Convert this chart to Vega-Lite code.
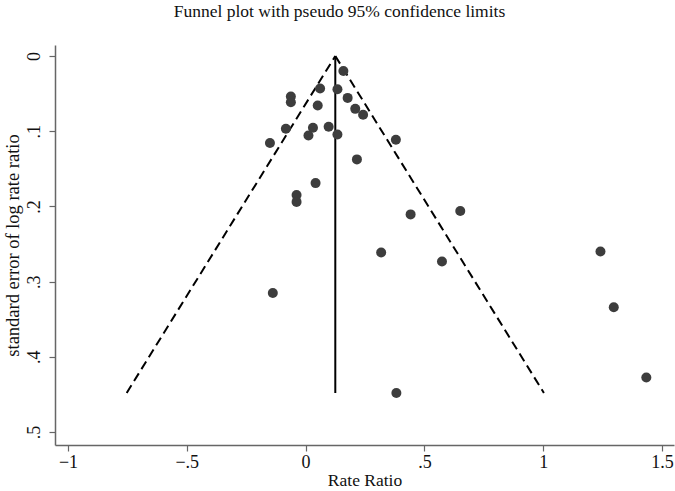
{
  "$schema": "https://vega.github.io/schema/vega-lite/v6.json",
  "autosize": {"type": "none"},
  "width": 619,
  "height": 400,
  "padding": {"left": 55, "top": 45, "right": 1, "bottom": 46},
  "background": "white",
  "config": {
    "view": {"stroke": null},
    "font": "Liberation Serif",
    "axis": {"grid": false, "domainColor": "#666666", "tickColor": "#666666", "labelColor": "#111111", "titleColor": "#111111", "labelFont": "Liberation Serif", "titleFont": "Liberation Serif", "labelFontSize": 18, "titleFontSize": 17.5, "titleFontWeight": "normal", "domainWidth": 1.5, "tickWidth": 1.2}
  },
  "title": {"text": "Funnel plot with pseudo 95% confidence limits", "font": "Liberation Serif", "fontSize": 17.5, "fontWeight": "normal", "color": "#111111", "anchor": "middle", "dx": -25, "offset": 25},
  "datasets": {
    "studies": [
      {"rr": 0.159, "se": 0.0199},
      {"rr": 0.061, "se": 0.0433},
      {"rr": 0.134, "se": 0.0442},
      {"rr": -0.062, "se": 0.054},
      {"rr": -0.062, "se": 0.0614},
      {"rr": 0.177, "se": 0.0557},
      {"rr": 0.051, "se": 0.0659},
      {"rr": 0.209, "se": 0.0703},
      {"rr": 0.242, "se": 0.0782},
      {"rr": -0.083, "se": 0.0968},
      {"rr": 0.031, "se": 0.0955},
      {"rr": 0.097, "se": 0.0942},
      {"rr": 0.012, "se": 0.1057},
      {"rr": 0.134, "se": 0.1044},
      {"rr": -0.15, "se": 0.1158},
      {"rr": 0.38, "se": 0.1114},
      {"rr": 0.216, "se": 0.1375},
      {"rr": 0.042, "se": 0.169},
      {"rr": -0.038, "se": 0.1848},
      {"rr": -0.038, "se": 0.194},
      {"rr": 0.442, "se": 0.2106},
      {"rr": 0.651, "se": 0.206},
      {"rr": 0.318, "se": 0.2613},
      {"rr": 0.574, "se": 0.2733},
      {"rr": 1.241, "se": 0.26},
      {"rr": 1.297, "se": 0.334},
      {"rr": 1.434, "se": 0.4275},
      {"rr": 0.382, "se": 0.448},
      {"rr": -0.138, "se": 0.315}
    ],
    "funnel": [
      {"side": "left", "rr": 0.125, "se": 0},
      {"side": "left", "rr": -0.753, "se": 0.448},
      {"side": "right", "rr": 0.125, "se": 0},
      {"side": "right", "rr": 1.003, "se": 0.448}
    ],
    "center": [
      {"rr": 0.125, "se0": 0, "se1": 0.448}
    ]
  },
  "layer": [
    {
      "data": {"name": "funnel"},
      "mark": {"type": "line", "color": "black", "strokeWidth": 2, "strokeDash": [9, 5]},
      "encoding": {
        "x": {"field": "rr", "type": "quantitative", "scale": {"domain": [-1.0547, 1.5505], "nice": false, "zero": false},
          "axis": {"values": [-1, -0.5, 0, 0.5, 1, 1.5], "title": "Rate Ratio", "titlePadding": 0, "tickSize": 6, "labelPadding": 2,
            "labelExpr": "datum.value == -1 ? '\u22121' : datum.value == -0.5 ? '\u2212.5' : datum.value == 0 ? '0' : datum.value == 0.5 ? '.5' : datum.value == 1 ? '1' : '1.5'"}},
        "y": {"field": "se", "type": "quantitative", "scale": {"domain": [-0.0146, 0.5172], "nice": false, "zero": false, "reverse": true},
          "axis": {"values": [0, 0.1, 0.2, 0.3, 0.4, 0.5], "title": "standard error of log rate ratio", "titleFontSize": 18.5, "titlePadding": 3, "tickSize": 6, "labelAngle": -90, "labelAlign": "center", "labelBaseline": "bottom", "labelPadding": 6,
            "labelExpr": "datum.value == 0 ? '0' : '.' + format(datum.value * 10, '.0f')"}},
        "detail": {"field": "side"}
      }
    },
    {
      "data": {"name": "center"},
      "mark": {"type": "rule", "color": "black", "strokeWidth": 2},
      "encoding": {
        "x": {"field": "rr", "type": "quantitative"},
        "y": {"field": "se0", "type": "quantitative"},
        "y2": {"field": "se1"}
      }
    },
    {
      "data": {"name": "studies"},
      "mark": {"type": "circle", "color": "#3d3d3d", "opacity": 1, "size": 100},
      "encoding": {
        "x": {"field": "rr", "type": "quantitative"},
        "y": {"field": "se", "type": "quantitative"}
      }
    }
  ]
}
